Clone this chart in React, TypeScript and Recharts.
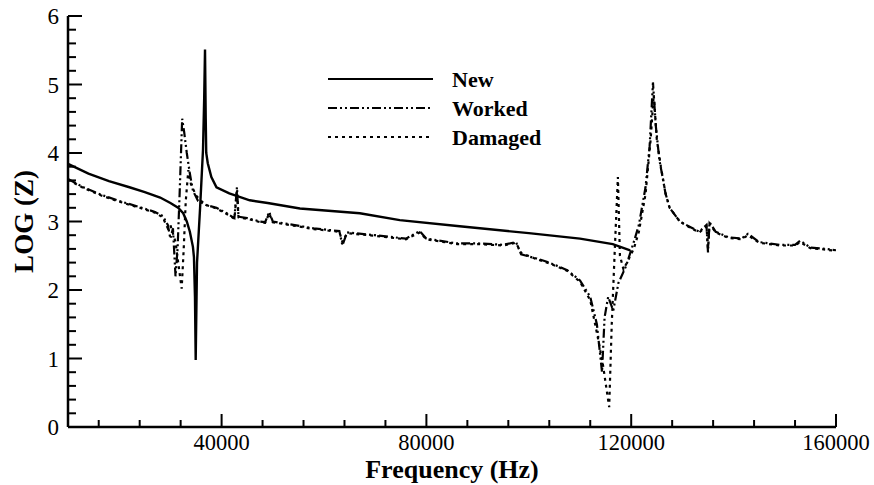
import React from 'react';
import { LineChart, Line, XAxis, YAxis, Legend } from 'recharts';

// ---- Data (Frequency in Hz, LOG(Z)) ----
const newFreq = [10000, 14000, 18000, 22000, 25000, 28000, 30000, 31500, 32500, 33200, 33800, 34400, 34600, 34800, 34940, 35200, 35800, 36370, 36600, 36760, 36900, 37000, 37300, 38000, 39000, 41500, 45500, 49000, 55300, 67000, 74800, 86500, 100000, 110000, 116400, 119800];
const newLogZ = [3.84, 3.70, 3.59, 3.50, 3.43, 3.35, 3.27, 3.20, 3.12, 3.0, 2.85, 2.63, 2.48, 1.9, 0.98, 2.4, 3.2, 4.05, 4.8, 5.51, 4.5, 4.0, 3.85, 3.65, 3.5, 3.41, 3.31, 3.27, 3.19, 3.12, 3.02, 2.93, 2.83, 2.75, 2.67, 2.58];

const workedFreq = [10000, 13000, 16500, 20000, 24000, 27000, 28500, 29500, 30000, 30500, 31000, 31400, 31800, 32300, 32700, 33200, 33800, 34400, 35400, 37000, 39000, 41000, 42500, 43000, 43300, 45000, 47500, 48500, 49300, 50000, 54000, 58000, 63000, 63600, 64500, 70000, 76000, 78700, 80000, 86000, 90000, 95000, 97500, 98500, 101500, 104000, 107500, 110000, 112000, 113300, 114300, 114800, 115500, 116500, 117500, 119000, 120500, 121500, 122800, 123600, 124250, 124800, 125500, 126000, 126700, 127500, 129500, 131500, 133300, 134700, 135000, 135300, 136500, 139000, 141500, 142800, 145000, 149000, 152000, 153000, 155000, 158000, 160000];
const workedLogZ = [3.62, 3.50, 3.39, 3.30, 3.21, 3.14, 3.08, 2.95, 2.75, 2.9, 2.2, 2.6, 3.4, 4.5, 4.3, 4.0, 3.7, 3.45, 3.3, 3.24, 3.2, 3.12, 3.05, 3.5, 3.07, 3.05, 3.0, 2.99, 3.14, 3.0, 2.95, 2.9, 2.86, 2.65, 2.84, 2.8, 2.75, 2.86, 2.75, 2.68, 2.68, 2.66, 2.7, 2.52, 2.46, 2.4, 2.29, 2.14, 1.9, 1.5, 0.8, 1.6, 1.9, 1.7, 2.1, 2.35, 2.7, 2.95, 3.5, 4.1, 5.03, 4.4, 3.9, 3.7, 3.41, 3.2, 3.0, 2.92, 2.85, 2.95, 2.55, 2.99, 2.85, 2.77, 2.75, 2.82, 2.7, 2.66, 2.66, 2.72, 2.62, 2.6, 2.58];

const damagedFreq = [10000, 13000, 16500, 20000, 24000, 27000, 28500, 29500, 30000, 31000, 31700, 32200, 32600, 33000, 33500, 34000, 35000, 36000, 37000, 39000, 41000, 42500, 43000, 43300, 45000, 47500, 48500, 49300, 50000, 54000, 58000, 63000, 63600, 64500, 70000, 76000, 78700, 80000, 86000, 90000, 95000, 97500, 98500, 101500, 104000, 107500, 110000, 112000, 113500, 114500, 115700, 116200, 116800, 117400, 117800, 118500, 119500, 120500, 121500, 122800, 123800, 124400, 125000, 125800, 126700, 127500, 129500, 131500, 133300, 134700, 135000, 135300, 136500, 139000, 141500, 142800, 145000, 149000, 152000, 153000, 155000, 158000, 160000];
const damagedLogZ = [3.61, 3.49, 3.38, 3.29, 3.20, 3.13, 3.06, 2.9, 2.95, 2.7, 2.3, 2.02, 2.6, 3.3, 3.75, 3.55, 3.38, 3.3, 3.24, 3.19, 3.11, 3.04, 3.45, 3.06, 3.04, 2.99, 2.98, 3.12, 2.99, 2.94, 2.89, 2.85, 2.7, 2.83, 2.79, 2.74, 2.84, 2.74, 2.67, 2.67, 2.65, 2.69, 2.54, 2.45, 2.39, 2.28, 2.12, 1.85, 1.3, 0.9, 0.29, 1.5, 2.6, 3.65, 2.5, 2.3, 2.45, 2.6, 2.85, 3.4, 4.2, 4.85, 4.2, 3.8, 3.41, 3.2, 3.0, 2.91, 2.84, 2.93, 2.6, 2.97, 2.84, 2.76, 2.74, 2.8, 2.69, 2.65, 2.65, 2.7, 2.61, 2.59, 2.57];

const seriesNames = ['New', 'Worked', 'Damaged'];
const seriesDash = ['', '9 3 2 3 2 3', '3 4'];

// ---- Ticks ----
const xTicks = [16000, 24000, 32000, 40000, 48000, 56000, 64000, 72000, 80000, 88000, 96000, 104000, 112000, 120000, 128000, 136000, 144000, 152000, 160000];
const xTickLabels = ['40000', '80000', '120000', '160000'];
const yTicks = Array.from({ length: 31 }, (_, i) => Math.round(i * 2) / 10);
const yTickLabels = ['0', '1', '2', '3', '4', '5', '6'];

const toRows = (fs: number[], zs: number[]) => fs.map((f, i) => ({ f, z: zs[i] }));
const newData = toRows(newFreq, newLogZ);
const workedData = toRows(workedFreq, workedLogZ);
const damagedData = toRows(damagedFreq, damagedLogZ);

const FONT = '"Liberation Serif", "Times New Roman", serif';

const XTick = (props: any) => {
  const { x, y, payload } = props;
  const label = String(payload.value);
  const major = xTickLabels.includes(label);
  return (
    <g>
      <line x1={x} x2={x} y1={y} y2={y - (major ? 13 : 7)} stroke="#000" strokeWidth={2} />
      {major && (
        <text x={x} y={y + 23} textAnchor="middle" fontFamily={FONT} fontSize={22.5} fill="#000">
          {label}
        </text>
      )}
    </g>
  );
};

const YTick = (props: any) => {
  const { x, y, payload } = props;
  const v = payload.value;
  const label = String(Math.round(v * 10) / 10);
  const major = yTickLabels.includes(label);
  return (
    <g>
      <line x1={x} x2={x + (major ? 14 : 8)} y1={y} y2={y} stroke="#000" strokeWidth={2} />
      {major && (
        <text x={x - 9} y={y + 8} textAnchor="end" fontFamily={FONT} fontSize={23} fill="#000">
          {label}
        </text>
      )}
    </g>
  );
};

const XLabel = (props: any) => {
  const vb = props.viewBox || { x: 68, y: 427, width: 768, height: 58 };
  return (
    <text x={vb.x + vb.width / 2} y={vb.y + 51} textAnchor="middle" fontFamily={FONT} fontWeight="bold" fontSize={26} fill="#000">
      Frequency (Hz)
    </text>
  );
};

const YLabel = (props: any) => {
  const vb = props.viewBox || { x: 8, y: 16, width: 60, height: 411 };
  const cx = 33;
  const cy = vb.y + vb.height / 2;
  return (
    <text x={cx} y={cy} transform={`rotate(-90, ${cx}, ${cy})`} textAnchor="middle" fontFamily={FONT} fontWeight="bold" fontSize={27} fill="#000">
      LOG (Z)
    </text>
  );
};

const LegendBox = () => {
  const rows = [17, 46, 75];
  return (
    <svg width={260} height={92} style={{ display: 'block', overflow: 'visible' }}>
      {seriesNames.map((name, i) => (
        <g key={name}>
          <line x1={8} x2={113} y1={rows[i]} y2={rows[i]} stroke="#000" strokeWidth={2.2} strokeDasharray={seriesDash[i] || undefined} />
          <text x={132} y={rows[i] + 7.5} fontFamily={FONT} fontWeight="bold" fontSize={22} fill="#000">
            {name}
          </text>
        </g>
      ))}
    </svg>
  );
};

export default function App() {
  return (
    <div style={{ position: 'absolute', left: 0, top: 0, width: 874, height: 485, background: '#fff' }}>
      <LineChart width={874} height={485} margin={{ top: 16, right: 38, bottom: 0, left: 8 }}>
        <XAxis
          dataKey="f"
          type="number"
          domain={[10000, 160000]}
          allowDataOverflow
          ticks={xTicks}
          interval={0}
          tick={<XTick />}
          tickLine={false}
          tickSize={0}
          tickMargin={0}
          height={58}
          axisLine={{ stroke: '#000', strokeWidth: 2.5 }}
          label={<XLabel />}
        />
        <YAxis
          type="number"
          domain={[0, 6]}
          allowDataOverflow
          ticks={yTicks}
          interval={0}
          tick={<YTick />}
          tickLine={false}
          tickSize={0}
          tickMargin={0}
          width={60}
          axisLine={{ stroke: '#000', strokeWidth: 2.5 }}
          label={<YLabel />}
        />
        <Legend
          verticalAlign="middle"
          align="center"
          wrapperStyle={{ position: 'absolute', left: 320, top: 62, width: 260, height: 92 }}
          content={() => <LegendBox />}
        />
        <Line data={damagedData} dataKey="z" name="Damaged" type="linear" stroke="#000" strokeWidth={2.2} strokeDasharray={seriesDash[2]} dot={false} activeDot={false} isAnimationActive={false} />
        <Line data={workedData} dataKey="z" name="Worked" type="linear" stroke="#000" strokeWidth={2.2} strokeDasharray={seriesDash[1]} dot={false} activeDot={false} isAnimationActive={false} />
        <Line data={newData} dataKey="z" name="New" type="linear" stroke="#000" strokeWidth={2.4} dot={false} activeDot={false} isAnimationActive={false} />
      </LineChart>
    </div>
  );
}
